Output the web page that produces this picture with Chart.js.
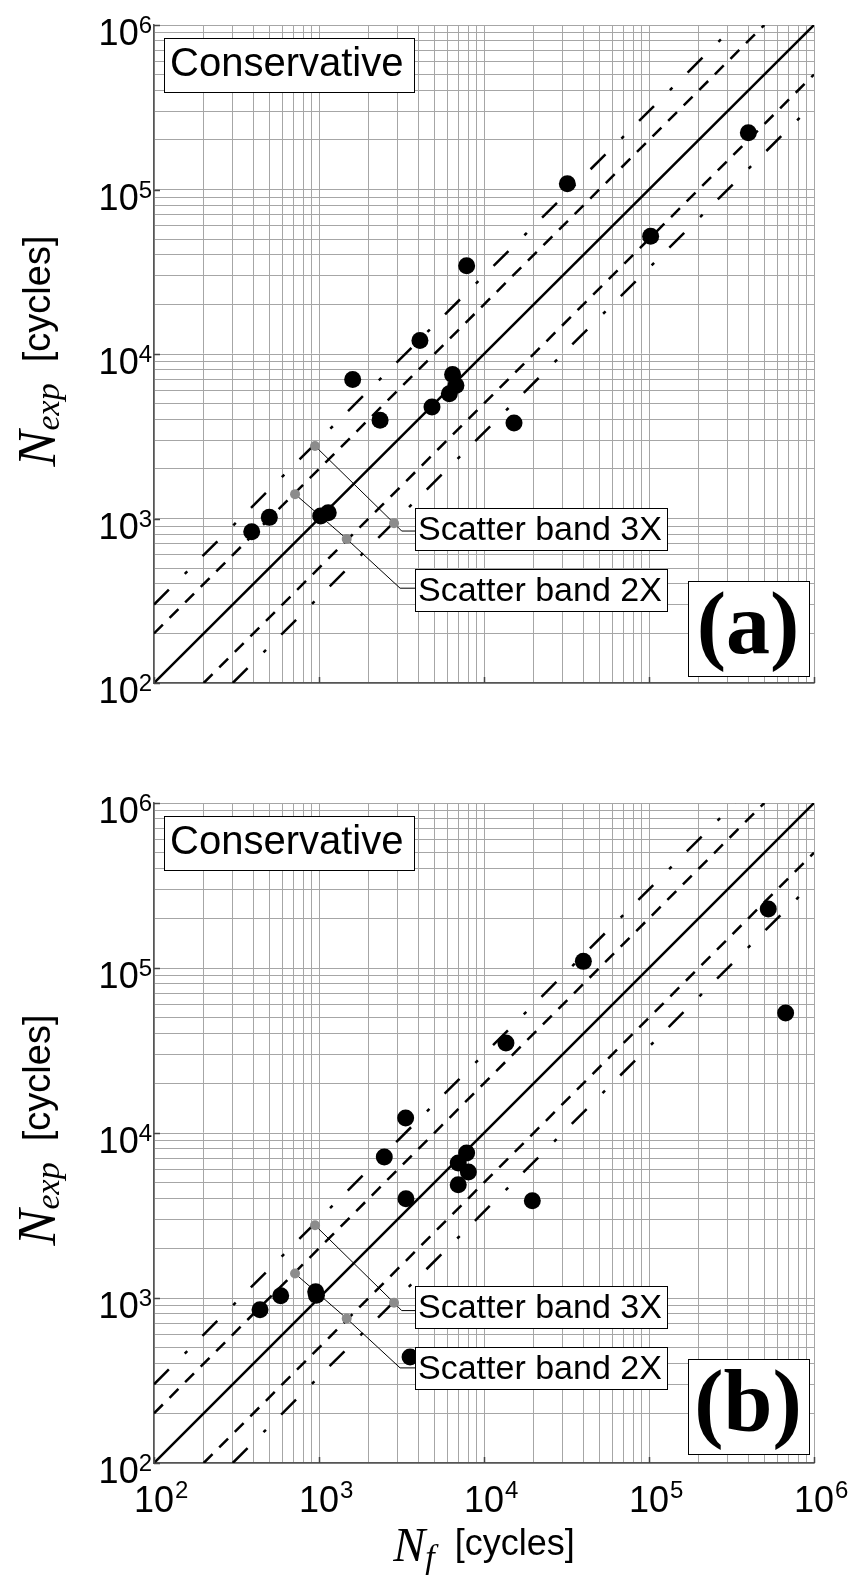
<!DOCTYPE html>
<html>
<head>
<meta charset="utf-8">
<script src="https://cdn.jsdelivr.net/npm/chart.js@4.4.1/dist/chart.umd.min.js"></script>
<style>
  html, body { margin: 0; padding: 0; background: #fff; }
  #wrap { position: relative; width: 849px; height: 1578px; }
  .panel { position: absolute; left: 0; width: 849px; }
  #pa { top: 0; height: 760px; }
  #pb { top: 760px; height: 818px; }
</style>
</head>
<body>
<div id="wrap">
  <div class="panel" id="pa"><canvas id="chartA"></canvas></div>
  <div class="panel" id="pb"><canvas id="chartB"></canvas></div>
</div>
<script>
// panel (a): predicted life vs experimental life
const nfA   = [391, 500, 1024, 1138, 1600, 2345, 4090, 4840, 6165, 6450, 6760, 7850, 15200, 32000, 102300, 400000];
const nexpA = [832, 1016, 1035, 1084, 7000, 3954, 12080, 4767, 5740, 7514, 6440, 34350, 3810, 108400, 52000, 221000];

// panel (b)
const nfB   = [439, 586, 955, 965, 2487, 3350, 3365, 3565, 6980, 6980, 7850, 8040, 13580, 19630, 40000, 528000, 673000];
const nexpB = [849, 1032, 1090, 1040, 7160, 12330, 4000, 439, 6580, 4863, 7570, 5800, 35100, 3890, 109700, 228000, 53400];

// reference lines
const oneX = [100, 1e6],    oneY = [100, 1e6];
const b2UpX = [100, 5e5],   b2UpY = [200, 1e6];
const b2LoX = [200, 1e6],   b2LoY = [100, 5e5];
const b3UpX = [100, 333333], b3UpY = [300, 1e6];
const b3LoX = [300, 1e6],   b3LoY = [100, 333333];

// annotation markers and leaders
const mark3X = [946, 2850],  mark3Y = [2760, 935];
const mark2X = [716, 1472],  mark2Y = [1406, 751];
const lead3X = [946, 2850, 3170, 3820], lead3Y = [2760, 935, 839, 839];
const lead2X = [716, 1472, 3100, 3820], lead2Y = [1406, 751, 377, 377];

// axis ticks
const decades = [100, 1000, 10000, 100000];
const mantissas = [1, 2, 3, 4, 5, 6, 7, 8, 9];
const majorTicks = [100, 1000, 10000, 100000, 1000000];
const majorExps = ['2', '3', '4', '5', '6'];
const gridValues = decades.flatMap(d => mantissas.map(m => m * d)).concat([1e6]);

const SANS = '"Liberation Sans", Arial, Helvetica, sans-serif';
const SERIF = '"Liberation Serif", "Times New Roman", serif';

const pts = (xs, ys) => xs.map((x, i) => ({ x, y: ys[i] }));

function drawBox(ctx, x, y, w, h) {
    ctx.fillStyle = '#fff';
    ctx.fillRect(x, y, w, h);
    ctx.strokeStyle = '#000';
    ctx.lineWidth = 1;
    ctx.strokeRect(Math.round(x) + 0.5, Math.round(y) + 0.5, Math.round(w), Math.round(h));
}

function drawParts(ctx, parts) {
    let total = 0;
    parts.forEach(p => { ctx.font = p.f; p.w = ctx.measureText(p.t).width; total += p.w; });
    let cx = -total / 2;
    ctx.textAlign = 'left';
    parts.forEach(p => {
        ctx.font = p.f;
        ctx.fillText(p.t, cx, p.dy);
        cx += p.w;
    });
}

const panelDecor = {
    id: 'panelDecor',
    afterDraw(chart, args, opts) {
        const { ctx, chartArea: a, scales: { x, y } } = chart;
        ctx.save();
        ctx.fillStyle = '#000';
        ctx.textBaseline = 'alphabetic';

        // small inside tick marks
        ctx.strokeStyle = '#444';
        ctx.lineWidth = 1.5;
        majorTicks.forEach(v => {
            const px = Math.round(x.getPixelForValue(v)) + 0.5;
            const py = Math.round(y.getPixelForValue(v)) + 0.5;
            ctx.beginPath();
            ctx.moveTo(px, a.bottom); ctx.lineTo(px, a.bottom - 6);
            ctx.moveTo(a.left, py); ctx.lineTo(a.left + 6, py);
            ctx.stroke();
        });

        // y tick labels
        ctx.fillStyle = '#000';
        majorTicks.forEach((v, i) => {
            const py = y.getPixelForValue(v);
            ctx.textAlign = 'right';
            ctx.font = '24px ' + SANS;
            const ws = ctx.measureText(majorExps[i]).width;
            ctx.fillText(majorExps[i], a.left - 2, py + 8);
            ctx.font = '36px ' + SANS;
            ctx.fillText('10', a.left - 2 - ws, py + 20);
        });

        // x tick labels (bottom panel only)
        if (opts.showX) {
            majorTicks.forEach((v, i) => {
                const px = x.getPixelForValue(v);
                ctx.font = '36px ' + SANS;
                ctx.textAlign = 'center';
                const w10 = ctx.measureText('10').width;
                ctx.fillText('10', px, a.bottom + 49);
                ctx.font = '24px ' + SANS;
                ctx.textAlign = 'left';
                ctx.fillText(majorExps[i], px + w10 / 2 + 1, a.bottom + 35);
            });

            ctx.save();
            ctx.translate((a.left + a.right) / 2, a.bottom + 98);
            drawParts(ctx, [
                { t: 'N', f: 'italic 48px ' + SERIF, dy: 0 },
                { t: 'f', f: 'italic 34px ' + SERIF, dy: 7 },
                { t: '  [cycles]', f: '36px ' + SANS, dy: -6 }
            ]);
            ctx.restore();
        }

        // y title
        ctx.save();
        ctx.translate(a.left - 99, (a.top + a.bottom) / 2 - 3);
        ctx.rotate(-Math.PI / 2);
        drawParts(ctx, [
            { t: 'N', f: 'italic 54px ' + SERIF, dy: 0 },
            { t: 'exp', f: 'italic 34px ' + SERIF, dy: 4 },
            { t: '  [cycles]', f: '38px ' + SANS, dy: -5 }
        ]);
        ctx.restore();

        // text boxes
        drawBox(ctx, a.left + 10, a.top + 13, 250, 54);
        ctx.fillStyle = '#000';
        ctx.font = '40px ' + SANS;
        ctx.textAlign = 'left';
        ctx.fillText('Conservative', a.left + 16, a.top + 51);

        drawBox(ctx, a.left + 261, a.top + 483, 252, 42);
        ctx.fillStyle = '#000';
        ctx.font = '34px ' + SANS;
        ctx.fillText('Scatter band 3X', a.left + 264, a.top + 515);

        drawBox(ctx, a.left + 261, a.top + 544, 252, 42);
        ctx.fillStyle = '#000';
        ctx.font = '34px ' + SANS;
        ctx.fillText('Scatter band 2X', a.left + 264, a.top + 576);

        drawBox(ctx, a.left + 534, a.top + 556, 121, 95);
        ctx.fillStyle = '#000';
        ctx.font = 'bold 88px ' + SERIF;
        ctx.textAlign = 'center';
        ctx.fillText('(' + opts.tag + ')', a.left + 594, a.top + 628);

        ctx.restore();
    }
};

function logAxis() {
    return {
        type: 'logarithmic',
        min: 100,
        max: 1e6,
        afterBuildTicks: s => { s.ticks = gridValues.map(v => ({ value: v })); },
        ticks: { display: false },
        grid: { color: '#a6a6a6', lineWidth: 1, drawTicks: false },
        border: { display: true, color: '#555', width: 1.5 }
    };
}

function lineSet(xs, ys, dash, width, order) {
    return {
        data: pts(xs, ys),
        showLine: true,
        borderColor: '#000',
        borderWidth: width,
        borderDash: dash,
        borderCapStyle: 'butt',
        pointRadius: 0,
        fill: false,
        tension: 0,
        order
    };
}

function makePanel(canvasId, nf, nexp, tag, showX, padding) {
    const ctx = document.getElementById(canvasId).getContext('2d');
    return new Chart(ctx, {
        type: 'scatter',
        data: {
            datasets: [
                {
                    data: pts(nf, nexp),
                    backgroundColor: '#000',
                    borderWidth: 0,
                    pointRadius: 8.5,
                    order: 0
                },
                {
                    data: pts(mark3X, mark3Y).concat(pts(mark2X, mark2Y)),
                    backgroundColor: '#8c8c8c',
                    borderWidth: 0,
                    pointRadius: 5,
                    order: 1
                },
                lineSet(lead3X, lead3Y, [], 1, 2),
                lineSet(lead2X, lead2Y, [], 1, 2),
                lineSet(oneX, oneY, [], 2.5, 3),
                lineSet(b2UpX, b2UpY, [12.5, 9.5], 2.5, 3),
                lineSet(b2LoX, b2LoY, [12.5, 9.5], 2.5, 3),
                lineSet(b3UpX, b3UpY, [21, 22.5, 3.5, 21.5], 2.5, 3),
                lineSet(b3LoX, b3LoY, [21, 22.5, 3.5, 21.5], 2.5, 3)
            ]
        },
        options: {
            responsive: true,
            maintainAspectRatio: false,
            animation: false,
            events: [],
            layout: { padding },
            plugins: {
                legend: { display: false },
                tooltip: { enabled: false },
                panelDecor: { tag, showX }
            },
            scales: {
                x: logAxis(),
                y: logAxis()
            }
        },
        plugins: [panelDecor]
    });
}

makePanel('chartA', nfA, nexpA, 'a', false, { left: 154, right: 35, top: 25, bottom: 77 });
makePanel('chartB', nfB, nexpB, 'b', true, { left: 154, right: 35, top: 43, bottom: 115 });
</script>
</body>
</html>
